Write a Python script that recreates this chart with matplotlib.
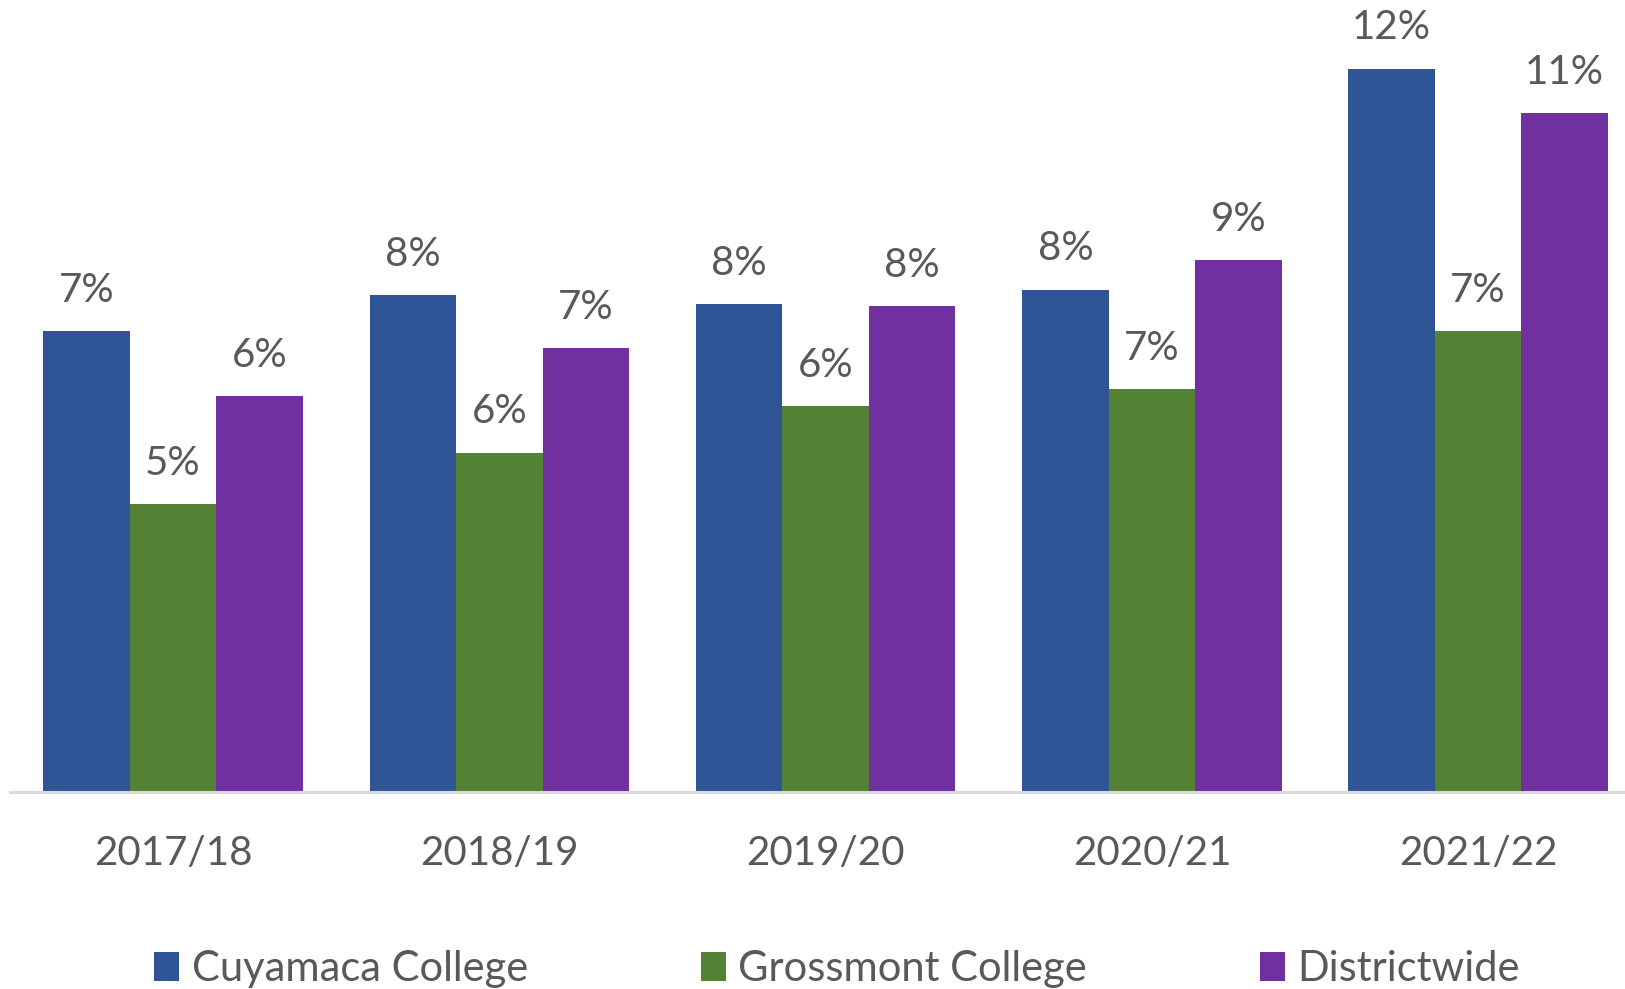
#! /usr/bin/env python3

import matplotlib
matplotlib.use('Agg')
import matplotlib.pyplot as plt
import numpy as np

years = ['2017/18', '2018/19', '2019/20', '2020/21', '2021/22']
series_names = ['Cuyamaca College', 'Grossmont College', 'Districtwide']

# percent of students, one list per series
cuyamaca = [7.49, 8.07, 7.92, 8.16, 11.75]
grossmont = [4.68, 5.51, 6.27, 6.54, 7.48]
districtwide = [6.43, 7.21, 7.89, 8.64, 11.03]

colors = ['#2F5597', '#548235', '#7030A0']
text_gray = '#595959'


def main():
    plt.rcParams['font.family'] = ['Lato', 'DejaVu Sans']
    fig = plt.figure(figsize=(16.25, 9.89), dpi=100)
    ax = fig.add_axes([9.9 / 1625, 197.2 / 989, 1 - 9.9 / 1625, 769.4 / 989])

    x = np.arange(len(years))
    width = 0.265
    bars = []
    for i, (name, vals) in enumerate(zip(series_names, [cuyamaca, grossmont, districtwide])):
        b = ax.bar(x + (i - 1) * width, vals, width, color=colors[i], label=name,
                   edgecolor='none')
        bars.append(b)
        for xi, v in zip(x + (i - 1) * width, vals):
            ax.annotate('%.0f%%' % v, (xi, v), xytext=(0, 21), textcoords='offset points',
                        ha='center', va='baseline', fontsize=29, color=text_gray)

    ax.set_xlim(-0.5, 4.45)
    ax.set_ylim(0, 12.5)
    ax.set_xticks(x)
    ax.set_xticklabels(years, fontsize=29, color=text_gray)
    ax.tick_params(axis='x', length=0, pad=31)
    ax.set_yticks([])
    for side in ['top', 'right', 'left']:
        ax.spines[side].set_visible(False)
    ax.spines['bottom'].set_color('#D9D9D9')
    ax.spines['bottom'].set_linewidth(2.2)

    leg = fig.legend(handles=bars, labels=series_names, loc='center',
                     bbox_to_anchor=(837 / 1625, 20 / 989), ncol=3, frameon=False,
                     fontsize=30, handlelength=0.6, handleheight=0.7,
                     handletextpad=0.3, columnspacing=4.15)
    for t in leg.get_texts():
        t.set_color(text_gray)

    fig.savefig('out.png', dpi=100)


main()
